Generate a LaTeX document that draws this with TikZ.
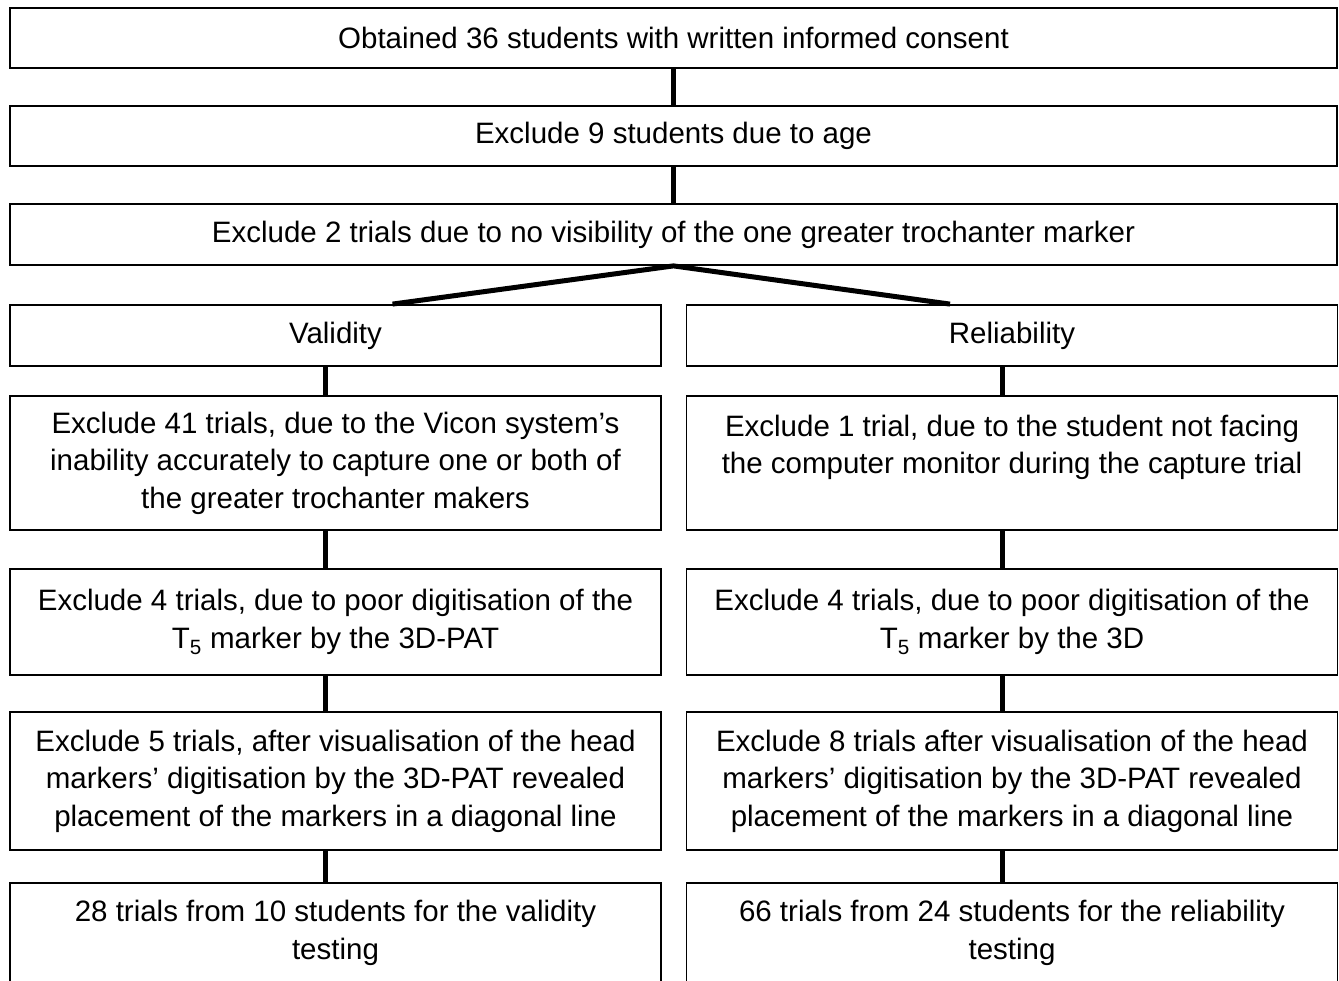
\documentclass[tikz,border=0pt]{standalone}
\usepackage{fontspec}
\setmainfont{Liberation Sans}
\begin{document}
\begin{tikzpicture}[x=1pt,y=-1pt,
		box/.style={draw,line width=1.8pt,align=center,inner sep=0pt,
			font=\fontsize{29.5}{37.5}\selectfont},
		wide/.style={box,minimum width=1327pt,minimum height=60pt},
		half/.style={box,minimum width=651pt},
		link/.style={line width=5pt}]
	\useasboundingbox (0,0) rectangle (1339,981);
	\clip (0,0) rectangle (1339,981);
	% common part
	\node[wide] (consent) at (673.5,38) {Obtained 36 students with written informed consent};
	\node[wide] (age) at (673.5,136) {Exclude 9 students due to age};
	\node[wide,minimum height=61pt] (troch) at (673.5,234.5) {Exclude 2 trials due to no visibility of the one greater trochanter marker};
	% validity branch
	\node[half,minimum height=61pt] (val) at (335.5,335.5) {Validity};
	\node[half,minimum height=134pt] (val1) at (335.5,463) {Exclude 41 trials, due to the Vicon system’s\\inability accurately to capture one or both of\\the greater trochanter makers};
	\node[half,minimum height=106pt] (val2) at (335.5,622) {Exclude 4 trials, due to poor digitisation of the\\T\textsubscript{5} marker by the 3D-PAT};
	\node[half,minimum height=138pt] (val3) at (335.5,781) {Exclude 5 trials, after visualisation of the head\\markers’ digitisation by the 3D-PAT revealed\\placement of the markers in a diagonal line};
	\node[half,minimum height=100pt,anchor=north] (val4) at (335.5,882) {28 trials from 10 students for the validity\\testing};
	% reliability branch
	\node[half,minimum height=61pt] (rel) at (1012,335.5) {Reliability};
	\node[half,minimum height=134pt] (rel1) at (1012,463) {Exclude 1 trial, due to the student not facing\\the computer monitor during the capture trial\\\mbox{}};
	\node[half,minimum height=106pt] (rel2) at (1012,622) {Exclude 4 trials, due to poor digitisation of the\\T\textsubscript{5} marker by the 3D};
	\node[half,minimum height=138pt] (rel3) at (1012,781) {Exclude 8 trials after visualisation of the head\\markers’ digitisation by the 3D-PAT revealed\\placement of the markers in a diagonal line};
	\node[half,minimum height=100pt,anchor=north] (rel4) at (1012,882) {66 trials from 24 students for the reliability\\testing};
	% connectors
	\draw[link] (consent.south) -- (age.north);
	\draw[link] (age.south) -- (troch.north);
	\draw[link,line join=miter] ([xshift=57pt]val.north) -- (troch.south) -- ([xshift=-62pt]rel.north);
	\foreach \a/\b in {val/val1,val1/val2,val2/val3,val3/val4}{
		\draw[link] ([xshift=-10pt]\a.south) -- ([xshift=-10pt]\b.north);
	}
	\foreach \a/\b in {rel/rel1,rel1/rel2,rel2/rel3,rel3/rel4}{
		\draw[link] ([xshift=-10pt]\a.south) -- ([xshift=-10pt]\b.north);
	}
\end{tikzpicture}
\end{document}
